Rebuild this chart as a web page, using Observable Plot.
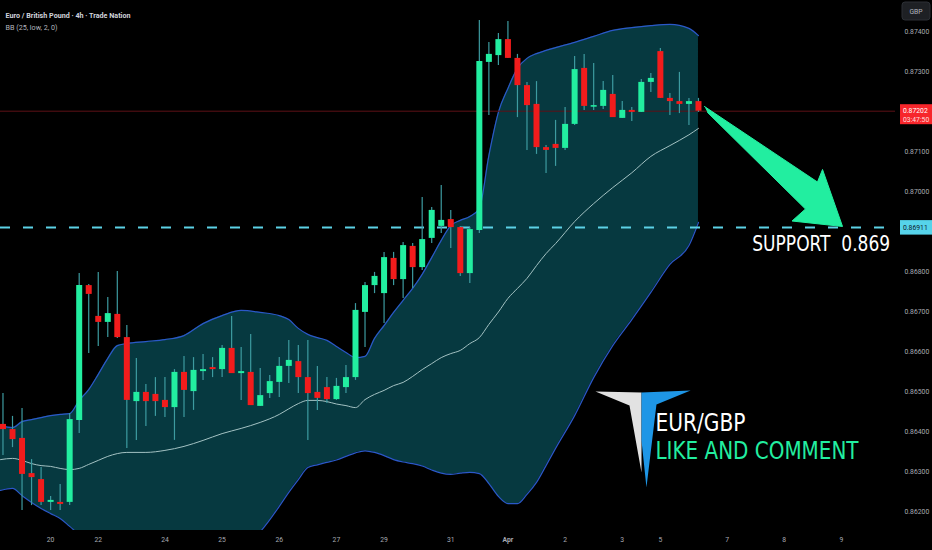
<!DOCTYPE html>
<html>
<head>
<meta charset="utf-8">
<script src="https://cdn.jsdelivr.net/npm/d3@7"></script>
<script src="https://cdn.jsdelivr.net/npm/@observablehq/plot@0.6"></script>
<style>
  html, body { margin: 0; padding: 0; background: #000; }
  #chart { width: 932px; height: 550px; overflow: hidden; }
</style>
</head>
<body>
<div id="chart"></div>
<script>
// EUR/GBP 4h candles (index 0 = first visible candle)
const open = [.86419,.86406,.86384,.86296,.86281,.86224,.86224,.86224,.86429,.86766,
  .86689,.86674,.86694,.86636,.86476,.86499,.86494,.86479,.86461,.86549,
  .86501,.86551,.86561,.86556,.86609,.86546,.86549,.86464,.86496,.86524,
  .86564,.86576,.86536,.86499,.86511,.86481,.86511,.86536,.86699,.86766,
  .86746,.86834,.86781,.86864,.86811,.86884,.86914,.86931,.86911,.86796,
  .86904,.87324,.87341,.87381,.87334,.87266,.87219,.87111,.87119,.87109,
  .87169,.87309,.87212,.87214,.87244,.87184,.87204,.87199,.87274,.87351,
  .87234,.87226,.87219,.87226];
const high = [.86496,.86439,.86459,.86331,.86311,.86239,.86269,.86446,.86796,.86769,
  .86799,.86736,.86801,.86666,.86584,.86519,.86536,.86536,.86556,.86589,
  .86586,.86594,.86586,.86616,.86689,.86611,.86644,.86559,.86541,.86586,
  .86629,.86616,.86629,.86564,.86536,.86534,.86566,.86721,.86774,.86799,
  .86849,.86849,.86874,.86871,.86986,.86961,.87016,.86954,.86914,.86911,
  .87429,.87374,.87396,.87426,.87344,.87274,.87276,.87116,.87179,.87211,
  .87339,.87344,.87321,.87276,.87291,.87226,.87211,.87281,.87296,.87359,
  .87246,.87299,.87234,.87234];
const low = [.86341,.86361,.86204,.86216,.86216,.86204,.86204,.86216,.86396,.86596,
  .86614,.86636,.86634,.86359,.86379,.86414,.86439,.86436,.86379,.86436,
  .86454,.86529,.86536,.86536,.86546,.86479,.86466,.86464,.86484,.86486,
  .86521,.86496,.86379,.86454,.86471,.86479,.86496,.86529,.86611,.86746,
  .86671,.86766,.86734,.86759,.86804,.86871,.86896,.86859,.86789,.86771,
  .86896,.87191,.87316,.87334,.87186,.87104,.87094,.87046,.87064,.87104,
  .87166,.87204,.87204,.87206,.87186,.87184,.87176,.87199,.87249,.87234,
  .87191,.87196,.87166,.87199];
const close = [.86406,.86381,.86294,.86286,.86224,.86229,.86219,.86431,.86766,.86744,
  .86674,.86696,.86636,.86479,.86499,.86476,.86476,.86461,.86549,.86504,
  .86554,.86556,.86556,.86609,.86546,.86551,.86466,.86491,.86526,.86564,
  .86579,.86536,.86496,.86484,.86481,.86514,.86536,.86704,.86766,.86789,
  .86836,.86781,.86866,.86811,.86881,.86954,.86929,.86911,.86796,.86906,
  .87326,.87344,.87381,.87334,.87266,.87216,.87111,.87104,.87109,.87169,
  .87306,.87214,.87216,.87254,.87186,.87204,.87199,.87274,.87284,.87234,
  .87226,.87219,.87226,.87202];

// Bollinger bands BB(25, low, 2), sampled at candle positions
const bandIdx = [-0.26,1,2,3,4,5,6,7,8,9,10,11,12,13,15,17,19,21,23,25,27,
  29,30,31,32,33,34,35,36,37,38,39,40,41,42,43,44,45,46,47,48,49,50,51,52,53,
  54,55,56,57,58,60,62,64,66,68,70,72,73];
const bandUpper = [.86416,.86411,.86426,.86431,.86436,.86441,.86444,.86446,.86479,.86506,
  .86544,.86584,.86616,.86621,.86626,.86631,.86641,.86671,.86691,.86704,.86699,
  .86691,.86681,.86659,.86644,.86636,.86629,.86614,.86599,.86586,.86589,.86634,
  .86666,.86699,.86729,.86759,.86794,.86836,.86879,.86916,.86929,.86939,.86959,
  .87091,.87199,.87259,.87309,.87334,.87346,.87354,.87361,.87374,.87389,.87404,
  .87411,.87416,.87419,.87409,.87391];
const bandMiddle = [.86331,.86334,.86329,.86321,.86316,.86314,.86309,.86306,.86309,.86319,
  .86329,.86339,.86346,.86349,.86349,.86354,.86364,.86379,.86396,.86409,.86424,
  .86444,.86458,.86471,.86479,.86479,.86476,.86470,.86466,.86461,.86481,.86494,
  .86504,.86516,.86524,.86539,.86556,.86571,.86586,.86596,.86604,.86621,.86636,
  .86669,.86700,.86734,.86759,.86784,.86816,.86846,.86871,.86926,.86971,.87011,
  .87048,.87089,.87116,.87143,.87159];
const bandLower = [.86254,.86259,.86241,.86224,.86209,.86196,.86184,.86164,.86144,.86129,
  .86114,.86099,.86089,.86079,.86066,.86059,.86059,.86066,.86084,.86116,.86151,
  .86214,.86249,.86281,.86311,.86318,.86324,.86330,.86339,.86348,.86353,.86349,
  .86341,.86331,.86325,.86321,.86315,.86305,.86297,.86294,.86297,.86299,.86296,
  .86271,.86239,.86221,.86221,.86244,.86274,.86316,.86359,.86441,.86536,.86616,
  .86681,.86749,.86819,.86866,.86924];

// time axis
const dayIdx = [5, 10, 17, 23, 29, 35, 40, 47, 53, 59, 65, 69, 76, 82, 88];
const dayLabels = ["20", "22", "24", "25", "26", "27", "29", "31", "Apr", "2", "3", "5", "7", "8", "9"];
// 0.872 and 0.869 sit under the price tags, so they are not printed
const priceTicks = [0.874, 0.873, 0.871, 0.870, 0.868, 0.867, 0.866, 0.865, 0.864, 0.863, 0.862];

const lastPrice = 0.87202;
const support = 0.86911;

// drawing: arrow and logo (candle index, price)
const arrowIdx = [73.63, 85.49, 86.02, 88.12, 82.82, 84.23, 73.95];
const arrowPrice = [.872138, .87025, .870563, .869138, .869275, .869575, .871988];
const logoWhiteIdx = [62.19, 67.02, 67.02, 65.76];
const logoWhitePrice = [.865013, .864988, .862988, .864663];
const logoBlueIdx = [67.02, 72.17, 68.59, 67.54, 67.02];
const logoBluePrice = [.864988, .865038, .864688, .862613, .863788];

const supportText = "SUPPORT\u00a0\u00a00.869";
const titleText = "Euro / British Pound \u00b7 4h \u00b7 Trade Nation";
const bbText = "BB (25, low, 2, 0)";

const candles = open.map((o, i) => ({i, open: o, high: high[i], low: low[i], close: close[i]}));
const bands = bandIdx.map((x, k) => ({x, upper: bandUpper[k], middle: bandMiddle[k], lower: bandLower[k]}));
const pts = (xs, ps) => xs.map((x, k) => ({x, p: ps[k]}));

const green = "#22eea0";
const red = "#f21c1c";

const chart = Plot.plot({
  width: 932,
  height: 550,
  marginLeft: 0,
  marginRight: 37,
  marginTop: 0,
  marginBottom: 20,
  x: {domain: [-0.26, 93.68], axis: null},
  y: {domain: [0.8615375, 0.8747875], axis: null},
  color: {type: "identity"},
  style: {
    background: "#000",
    color: "#a8abb3",
    "font-family": "Roboto, sans-serif",
    "font-size": "6.8px"
  },
  marks: [
    Plot.areaY(bands, {x: "x", y1: "lower", y2: "upper", fill: "#063940", curve: "monotone-x", clip: true}),
    Plot.line(bands, {x: "x", y: "upper", stroke: "#2b58c8", strokeWidth: 1.2, curve: "monotone-x", clip: true}),
    Plot.line(bands, {x: "x", y: "lower", stroke: "#2b58c8", strokeWidth: 1.2, curve: "monotone-x", clip: true}),
    Plot.line(bands, {x: "x", y: "middle", stroke: "#a3c2c3", strokeWidth: 1, curve: "monotone-x", clip: true}),
    Plot.ruleY([lastPrice], {stroke: "#5e1116", strokeWidth: 1}),
    Plot.ruleY([support], {stroke: "#5cd2e6", strokeWidth: 2, strokeDasharray: "10,13"}),
    // wicks then bodies
    Plot.ruleX(candles, {x: "i", y1: "low", y2: "high", stroke: "#3d9ba0", strokeWidth: 1.2}),
    Plot.ruleX(candles, {x: "i", y1: "open", y2: "close", stroke: (d) => (d.close >= d.open ? green : red), strokeWidth: 6}),
    // arrow to support
    Plot.line(pts(arrowIdx, arrowPrice), {x: "x", y: "p", fill: green, stroke: green, strokeWidth: 1}),
    // logo
    Plot.line(pts(logoWhiteIdx, logoWhitePrice), {x: "x", y: "p", fill: "#e2e2e2", stroke: "none"}),
    Plot.line(pts(logoBlueIdx, logoBluePrice), {x: "x", y: "p", fill: "#1e96e6", stroke: "none"}),
    Plot.text([supportText], {x: 78.64, y: 0.868688, text: (d) => d, textAnchor: "start", fill: "#fff", fontSize: 21, fontFamily: "DejaVu Sans Condensed, sans-serif"}),
    Plot.text(["EUR/GBP"], {x: 68.49, y: 0.86423, text: (d) => d, textAnchor: "start", fill: "#fff", fontSize: 25, fontFamily: "DejaVu Sans Condensed, sans-serif"}),
    Plot.text(["LIKE AND COMMENT"], {x: 68.49, y: 0.863518, text: (d) => d, textAnchor: "start", fill: green, fontSize: 25, fontFamily: "DejaVu Sans Condensed, sans-serif"}),
    // header
    Plot.text([titleText], {frameAnchor: "top-left", dx: 5, dy: 12, text: (d) => d, textAnchor: "start", fill: "#d1d4dc", fontSize: 8, fontWeight: "bold"}),
    Plot.text([bbText], {frameAnchor: "top-left", dx: 5, dy: 24, text: (d) => d, textAnchor: "start", fill: "#b2b5be", fontSize: 8}),
    // axes
    Plot.axisX({ticks: dayIdx, tickFormat: (d) => dayLabels[dayIdx.indexOf(d)], tickSize: 0, tickPadding: 7}),
    Plot.axisY({anchor: "right", ticks: priceTicks, tickFormat: d3.format(".5f"), tickSize: 0, tickPadding: 9})
  ]
});

d3.select("#chart").append(() => chart);

// squeeze texts to the widths seen in the picture
const fit = {};
fit[supportText] = 138;
fit["EUR/GBP"] = 90;
fit["LIKE AND COMMENT"] = 203;
fit[titleText] = 125;
fit[bbText] = 52;
d3.select(chart).selectAll("text").each(function () {
  const w = fit[this.textContent];
  if (w) {
    this.setAttribute("textLength", w);
    this.setAttribute("lengthAdjust", "spacingAndGlyphs");
  }
  if (this.textContent === "Apr") this.setAttribute("font-weight", "bold");
});

// price scale tags
const svg = d3.select(chart);
const ys = chart.scale("y");

svg.append("rect").attr("x", 902).attr("y", 2).attr("width", 28).attr("height", 18).attr("rx", 3)
  .attr("fill", "#1e2024").attr("stroke", "#2c2f35");
svg.append("text").attr("x", 916).attr("y", 13.5).attr("text-anchor", "middle")
  .attr("fill", "#b2b5be").attr("font-size", 6.8).text("GBP");

const yLast = ys.apply(lastPrice);
svg.append("rect").attr("x", 900).attr("y", yLast - 6.5).attr("width", 32).attr("height", 20).attr("fill", "#f7262b");
svg.append("text").attr("x", 903).attr("y", yLast + 2).attr("text-anchor", "start")
  .attr("fill", "#fff").attr("font-size", 6.8).text("0.87202");
svg.append("text").attr("x", 903).attr("y", yLast + 11).attr("text-anchor", "start")
  .attr("fill", "#fdd").attr("font-size", 6.8).text("03:47:50");

const ySup = ys.apply(support);
svg.append("rect").attr("x", 900).attr("y", ySup - 7).attr("width", 32).attr("height", 14.5).attr("fill", "#56d3ea");
svg.append("text").attr("x", 903).attr("y", ySup + 2.5).attr("text-anchor", "start")
  .attr("fill", "#10202a").attr("font-size", 6.8).text("0.86911");
</script>
</body>
</html>
